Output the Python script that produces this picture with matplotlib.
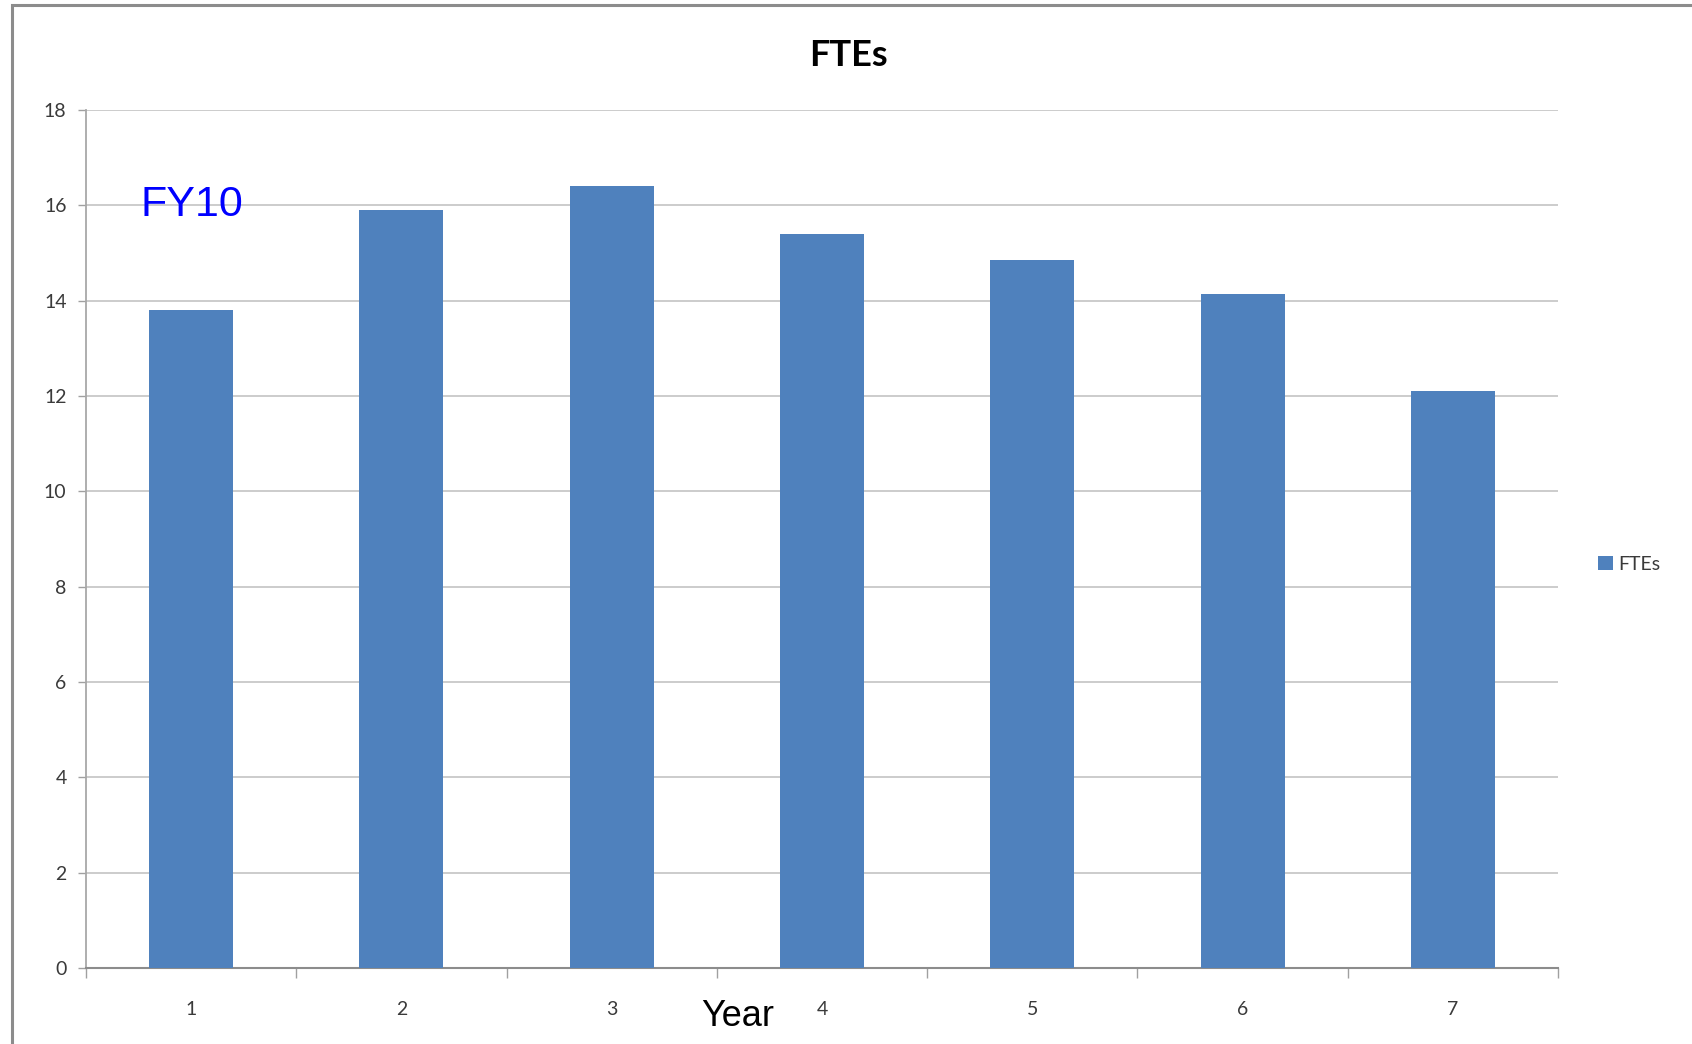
import matplotlib
matplotlib.use("Agg")
import matplotlib.pyplot as plt
from matplotlib.patches import Rectangle
import numpy as np

years = ["1", "2", "3", "4", "5", "6", "7"]
ftes = [13.8, 15.9, 16.4, 15.4, 14.85, 14.15, 12.1]
y_ticks = [0, 2, 4, 6, 8, 10, 12, 14, 16, 18]

W, H = 1692, 1044
fig = plt.figure(figsize=(W / 100, H / 100), dpi=100)
fig.patch.set_facecolor("white")

# outer chart frame
fig.add_artist(Rectangle((12 / W, -0.1), 1.2, 1.1 - 5 / H, transform=fig.transFigure,
                         fill=False, edgecolor="#8c8c8c", linewidth=2.2))

ax = fig.add_axes([86 / W, 1 - 968 / H, (1558 - 86) / W, (968 - 110) / H])
x = np.arange(len(years))
ax.bar(x, ftes, width=0.4, color="#4F81BD", zorder=3, label="FTEs")

ax.set_xlim(-0.5, len(years) - 0.5)
ax.set_ylim(0, 18)
ax.set_yticks(y_ticks)
ax.set_yticklabels([str(v) for v in y_ticks], fontsize=14, color="#3a3a3a", family="Lato")
ax.yaxis.grid(True, color="#C8C8C8", linewidth=1.3, zorder=0)

# category labels at centres, tick marks at category boundaries
ax.set_xticks(np.arange(-0.5, len(years)), minor=False)
ax.set_xticklabels([""] * (len(years) + 1))
ax.set_xticks(x, minor=True)
ax.set_xticklabels(years, minor=True, fontsize=14, color="#3a3a3a", family="Lato")
ax.tick_params(axis="x", which="major", length=7, color="#A0A0A0", width=1)
ax.tick_params(axis="x", which="minor", length=0, pad=24)
ax.tick_params(axis="y", length=6, color="#A0A0A0", width=1, pad=8)

for side in ["top", "right"]:
    ax.spines[side].set_visible(False)
ax.spines["left"].set_color("#A8A8A8")
ax.spines["bottom"].set_color("#8C8C8C")
ax.spines["left"].set_linewidth(1.3)
ax.spines["bottom"].set_linewidth(1.5)

fig.text(848 / W, 1 - 66 / H, "FTEs", ha="center", va="baseline",
         fontsize=26, fontweight="bold", family="Lato", color="#000000")
fig.text(141 / W, 1 - 216 / H, "FY10", ha="left", va="baseline",
         fontsize=31, family="Liberation Sans", color="#0000FF")
fig.text(738 / W, 1 - 1026 / H, "Year", ha="center", va="baseline",
         fontsize=26, family="Liberation Sans", color="#000000")

leg = fig.legend(loc="center left", bbox_to_anchor=(1598 / W, 1 - 564 / H),
                 frameon=False, prop={"family": "Lato", "size": 14},
                 handlelength=0.75, handleheight=0.75, handletextpad=0.3,
                 borderaxespad=0, borderpad=0)
for t in leg.get_texts():
    t.set_color("#3a3a3a")

fig.savefig("out.png", dpi=100)
